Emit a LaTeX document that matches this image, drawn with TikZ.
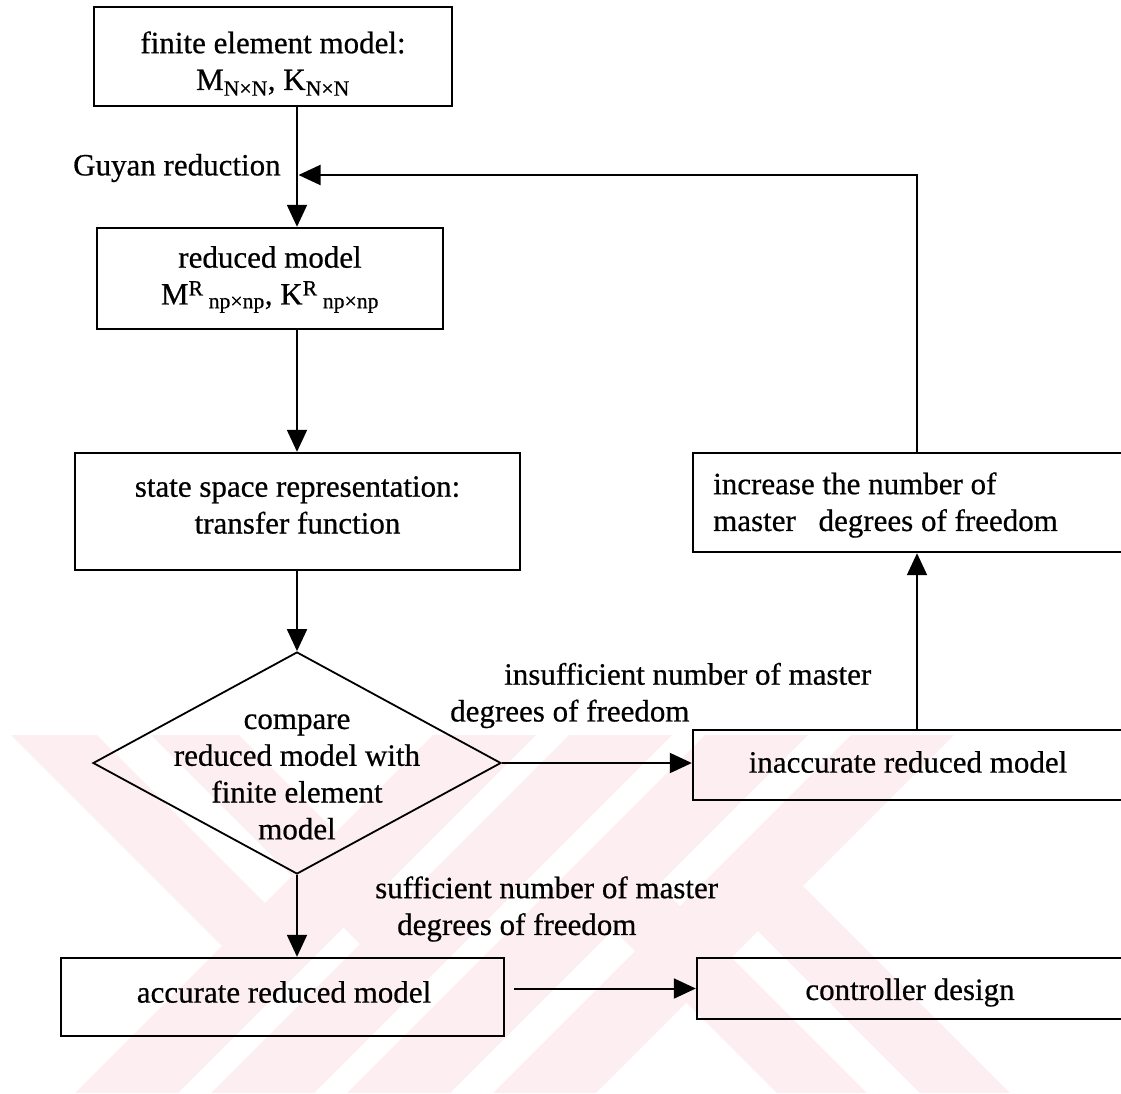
\documentclass[tikz,border=0pt]{standalone}
\usepackage{fontspec}
\setmainfont[FakeBold=0.6]{Liberation Serif}
\usetikzlibrary{arrows.meta,shapes.geometric,calc}
\definecolor{wmark}{RGB}{253,238,241}

\begin{document}
\begin{tikzpicture}[x=1pt,y=-1pt,
  every node/.style={font=\fontsize{31}{36.8}\selectfont, inner sep=0pt},
  flowbox/.style={draw, rectangle, line width=2.4pt},
  decision/.style={draw, diamond, line width=1.8pt, inner sep=0pt},
  boxtext/.style={align=center},
  link/.style={line width=2pt, -{Triangle[length=22pt,width=20pt]}},
  lbl/.style={align=left, anchor=west}]
\useasboundingbox (0,0) rectangle (1121,1093);
\clip (0,0) rectangle (1121,1093);

% background stripes in the lower part of the sheet
\begin{scope}
  \clip (0,735) rectangle (1121,1093);
  \fill[wmark] (433,735) -- (536,735) -- (178,1093) -- (75,1093) -- cycle;
  \fill[wmark] (569,735) -- (672,735) -- (314,1093) -- (211,1093) -- cycle;
  \fill[wmark] (705,735) -- (808,735) -- (450,1093) -- (347,1093) -- cycle;
  \fill[wmark] (851,735) -- (954,735) -- (596,1093) -- (493,1093) -- cycle;
  \fill[wmark] (11,735) -- (97,735) -- (290.75,928.75) -- (247.75,971.75) -- cycle;
  \fill[wmark] (151,735) -- (239,735) -- (429.75,925.75) -- (385.75,969.75) -- cycle;
  \fill[wmark] (587.75,903.75) -- (632.75,858.75) -- (867,1093) -- (777,1093) -- cycle;
  \fill[wmark] (732.25,905.25) -- (777.25,860.25) -- (1010,1093) -- (920,1093) -- cycle;
\end{scope}

% boxes
\node[flowbox, minimum width=358pt, minimum height=99pt] (fem) at (273,56.5) {};
\node[boxtext] (fem-t) at (273,63.5)
  {finite element model:\\M\textsubscript{N×N}, K\textsubscript{N×N}};
\node[flowbox, minimum width=346pt, minimum height=101pt] (red) at (270,278.5) {};
\node[boxtext] (red-t) at (270,279.5)
  {reduced model\\M\textsuperscript{R}\,\textsubscript{np×np}, K\textsuperscript{R}\,\textsubscript{np×np}};
\node[flowbox, minimum width=445pt, minimum height=117pt] (ss) at (297.5,511.5) {};
\node[boxtext] (ss-t) at (297.5,505)
  {state space representation:\\transfer function};
\node[decision, minimum width=408pt, minimum height=222pt] (cmp) at (297,763) {};
\node[boxtext] (cmp-t) at (297,777)
  {compare\\reduced model with\\finite element\\model};
\node[flowbox, minimum width=432pt, minimum height=99pt] (incr) at (909,502.5) {};
\node[align=left, anchor=west] (incr-t) at (713,505)
  {increase the number of\\master\hspace{15pt} degrees of freedom};
\node[flowbox, minimum width=432pt, minimum height=70pt] (inacc) at (909,765) {};
\node[boxtext] (inacc-t) at (908,762) {inaccurate reduced model};
\node[flowbox, minimum width=443pt, minimum height=78pt] (acc) at (282.5,997) {};
\node[boxtext] (acc-t) at (284,992) {accurate reduced model};
\node[flowbox, minimum width=428pt, minimum height=61pt] (ctrl) at (911,988.5) {};
\node[boxtext] (ctrl-t) at (910,992.5) {controller design};

% labels
\node[lbl] (guyan) at (73,168) {Guyan reduction};
\node[lbl] (insuff) at (450,695.5)
  {\hspace*{54pt}insufficient number of master\\degrees of freedom};
\node[lbl] (suff) at (375,909)
  {sufficient number of master\\\hspace*{22pt}degrees of freedom};

% connectors
\coordinate (loop) at (917,175);
\draw[link] (fem.south -| cmp.north) -- (red.north -| cmp.north);
\draw[link] (red.south -| cmp.north) -- (ss.north -| cmp.north);
\draw[link] (ss.south -| cmp.north) -- (cmp.north);
\draw[link] (cmp.east) -- (cmp.east -| inacc.west);
\draw[link] (cmp.south) -- (acc.north -| cmp.south);
\draw[link] (inacc.north -| loop) -- (incr.south -| loop);
\draw[link] (incr.north -| loop) -- (loop) -- ($(loop -| cmp.north)+(1.5,0)$);
\draw[link] ($(acc.east |- ctrl.west)+(9,0)$) -- (ctrl.west);
\end{tikzpicture}
\end{document}
